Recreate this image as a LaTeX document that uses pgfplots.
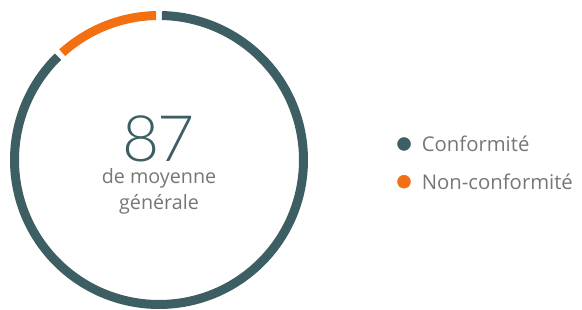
\documentclass[border=0pt]{standalone}
\usepackage{pgfplots}
\pgfplotsset{compat=1.18}
\usepackage{fontspec}
\setmainfont{Open Sans}
\newfontfamily\lightfont{Lato Light}
\definecolor{confteal}{HTML}{3D5F63}
\definecolor{ncorange}{HTML}{F27012}
\definecolor{txtgray}{HTML}{767676}
% data (share of the ring, in %)
\def\conf{88}
\def\nonconf{12}
\begin{document}
\begin{tikzpicture}
\pgfmathsetmacro{\bnd}{90+3.6*\nonconf}
\pgfmathsetmacro{\gap}{1.15}
\pgfmathsetmacro{\oa}{90+\gap}
\pgfmathsetmacro{\ob}{\bnd-\gap}
\pgfmathsetmacro{\ta}{\bnd+\gap}
\pgfmathsetmacro{\tb}{450-\gap}
\begin{axis}[
  width=582pt, height=310pt, scale only axis,
  xmin=0, xmax=582, ymin=0, ymax=310,
  hide axis,
]
\draw[line width=9pt, confteal] ([shift={(\ta:144.5pt)}]axis cs:159,150) arc[start angle=\ta, end angle=\tb, radius=144.5pt];
\draw[line width=9pt, ncorange] ([shift={(\oa:144.5pt)}]axis cs:159,150) arc[start angle=\oa, end angle=\ob, radius=144.5pt];
% legend
\addplot[only marks, mark=*, mark size=6.5pt, confteal, mark options={draw=none, fill=confteal}] coordinates {(404,166)};
\addplot[only marks, mark=*, mark size=6.5pt, ncorange, mark options={draw=none, fill=ncorange}] coordinates {(404,128.3)};
\node[anchor=base west, text=txtgray, inner sep=0pt, font=\fontsize{20.3}{24}\selectfont] at (axis cs:421.7,158.3) {Conformité};
\node[anchor=base west, text=txtgray, inner sep=0pt, font=\fontsize{20.3}{24}\selectfont] at (axis cs:421.7,120.6) {Non-conformité};
% centre text
\node[anchor=base, text=confteal, inner sep=0pt, font=\lightfont\fontsize{64}{64}\selectfont] at (axis cs:158.5,148.3) {8\kern-2pt7};
\node[anchor=base, text=txtgray, inner sep=0pt, font=\fontsize{19.7}{24}\selectfont] at (axis cs:159,126.5) {de moyenne};
\node[anchor=base, text=txtgray, inner sep=0pt, font=\fontsize{19.7}{24}\selectfont] at (axis cs:159,100.5) {générale};
\end{axis}
\useasboundingbox (current axis.south west) rectangle (current axis.north east);
\end{tikzpicture}
\end{document}
